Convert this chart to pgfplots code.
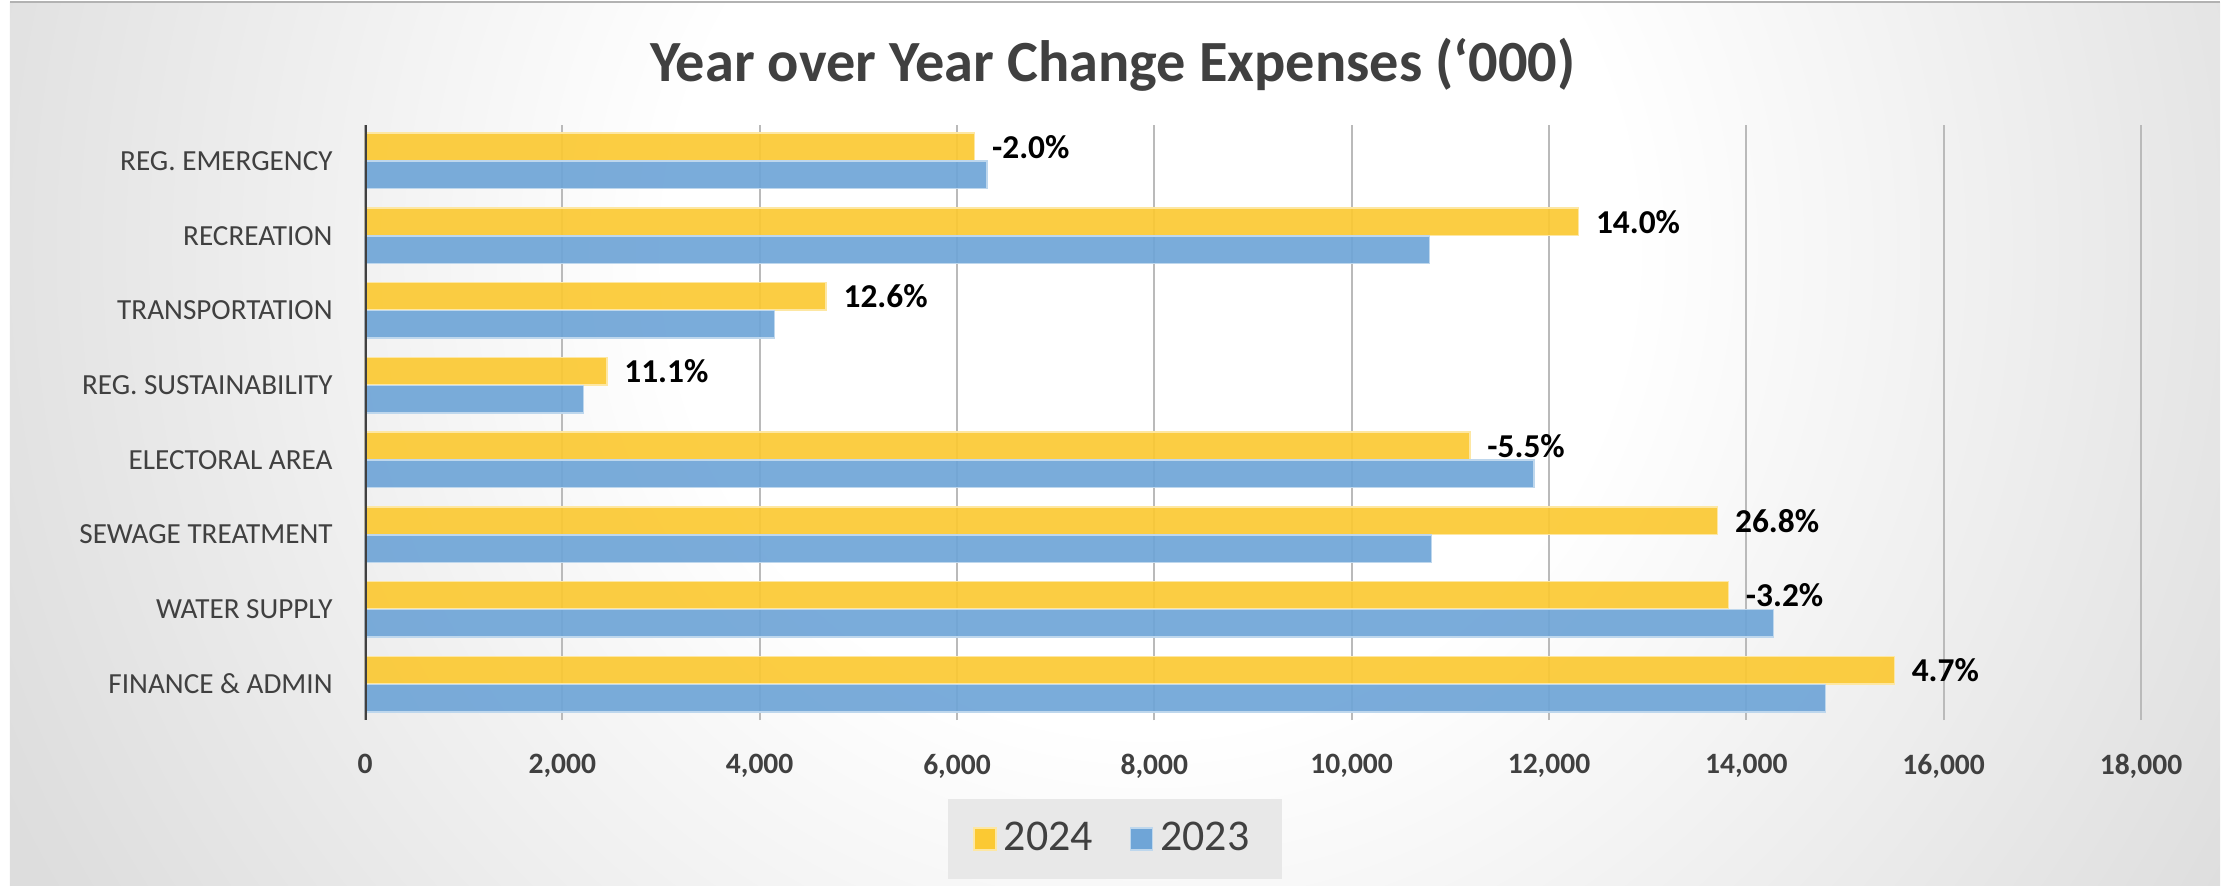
\documentclass[border=0pt]{standalone}
\usepackage{fontspec}
\setmainfont{Carlito}
\usepackage{pgfplots}
\pgfplotsset{compat=1.18}

\definecolor{axisgray}{HTML}{404040}
\definecolor{bar24}{HTML}{FBC933}
\definecolor{bar23}{HTML}{6FA5D7}

% background: soft radial glow near the top middle
\pgfdeclareradialshading{chartbg}{\pgfpointorigin}{%
  color(0bp)=(white); color(10bp)=(white); color(26bp)=(black!13);
  color(48bp)=(black!23); color(75bp)=(black!26)}

\begin{document}
\begin{tikzpicture}
\path[use as bounding box] (0,0) rectangle (222.4mm,88.5mm);
\begin{scope}
  \clip (1mm,0) rectangle (222mm,88.3mm);
  \shade[shading=chartbg] (-5mm,-56.5mm) rectangle +(240mm,240mm);
\end{scope}
\draw[black!30, line width=0.5pt] (1mm,88.3mm) -- (222mm,88.3mm);

\node[text=axisgray, font=\bfseries\fontsize{16.6}{19}\selectfont]
  at (111.3mm,82mm) {Year over Year Change Expenses (‘000)};

\begin{axis}[
    at={(36.5mm,16.5mm)}, anchor=south west,
    scale only axis,
    width=177.6mm, height=59.5mm,
    xbar, bar width=2.75mm,
    xmin=0, xmax=18000,
    ymin=-0.48, ymax=7.48,
    xtick={0,2000,...,18000},
    scaled x ticks=false,
    /pgf/number format/1000 sep={,},
    /pgf/number format/assume math mode=true,
    ytick={0,...,7},
    yticklabels={FINANCE \& ADMIN, WATER SUPPLY, SEWAGE TREATMENT, ELECTORAL AREA,
                 REG. SUSTAINABILITY, TRANSPORTATION, RECREATION, REG. EMERGENCY},
    every x tick label/.append style={font=\bfseries\fontsize{8.4}{10}\selectfont,
                                      text=axisgray, yshift=-2.2mm},
    every y tick label/.append style={font=\fontsize{8.3}{10}\selectfont,
                                      text=axisgray, xshift=-2mm},
    major tick length=0pt,
    axis line style={draw=none},
    xmajorgrids,
    grid style={black!27, line width=0.5pt},
    legend columns=2,
    legend style={at={(0.4223,-0.2)}, anchor=center, draw=none, fill=black!9,
                  font=\fontsize{12.5}{14}\selectfont, text=axisgray,
                  inner xsep=2.5mm, inner ysep=1.6mm,
                  /tikz/every even column/.append style={column sep=3mm}},
    legend image code/.code={\draw[#1, fill opacity=1] (0.2mm,-1.1mm) rectangle (2.4mm,1.1mm);},
]
% 2024 with year-over-year change labels
\addplot[fill=bar24, draw=bar24!45!white, line width=0.4pt, fill opacity=0.92,
         bar shift=1.4mm,
         point meta=explicit symbolic,
         nodes near coords,
         nodes near coords style={font=\bfseries\fontsize{9.5}{10}\selectfont,
                                  text=black, text opacity=1, anchor=west, xshift=0.5mm}]
  coordinates {
    (15500,0) [4.7\%]
    (13820,1) [-3.2\%]
    (13710,2) [26.8\%]
    (11200,3) [-5.5\%]
    (2452,4)  [11.1\%]
    (4674,5)  [12.6\%]
    (12300,6) [14.0\%]
    (6180,7)  [-2.0\%]
  };
\addlegendentry{2024}

% 2023
\addplot[fill=bar23, draw=bar23!45!white, line width=0.4pt, fill opacity=0.92,
         bar shift=-1.4mm]
  coordinates {
    (14800,0) (14275,1) (10810,2) (11850,3)
    (2213,4) (4151,5) (10790,6) (6303,7)
  };
\addlegendentry{2023}

\draw[axisgray, line width=0.9pt] (rel axis cs:0,0) -- (rel axis cs:0,1);
\end{axis}
\end{tikzpicture}
\end{document}
